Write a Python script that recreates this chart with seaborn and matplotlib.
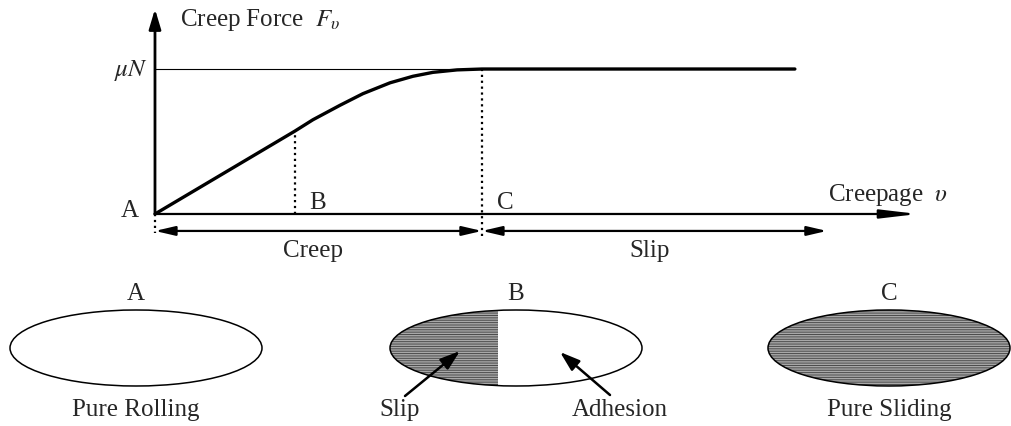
import matplotlib
matplotlib.use("Agg")
import matplotlib.pyplot as plt
from matplotlib.patches import Ellipse, Rectangle
import pandas as pd
import seaborn as sns

# creep curve: creepage in units of the saturation point C, force in units of muN
creepage = [0.0, 0.428, 0.483, 0.566, 0.636, 0.719, 0.789, 0.85, 0.924, 1.0, 1.957]
force = [0.0, 0.572, 0.65, 0.75, 0.83, 0.905, 0.95, 0.977, 0.994, 1.0, 1.0]

point_names = ["A", "B", "C"]
point_creepage = [0.0, 0.428, 1.0]
point_force = [0.0, 0.572, 1.0]
regime_labels = ["Creep", "Slip"]
state_labels = ["Pure Rolling", "", "Pure Sliding"]
slip_share = [0.0, 0.43, 1.0]   # hatched (slip) part of each contact patch

sns.set_theme(style="white")
plt.rcParams["font.family"] = ["Liberation Serif", "DejaVu Serif"]
plt.rcParams["mathtext.fontset"] = "stix"
plt.rcParams["hatch.linewidth"] = 0.7
fs = 18

fig = plt.figure(figsize=(10.11, 4.27), dpi=100)

# ---- upper part: creep force curve
ax = fig.add_axes([0, 1 - 265 / 427, 1, 265 / 427])
df = pd.DataFrame({"creepage": creepage, "force": force})
sns.lineplot(data=df, x="creepage", y="force", ax=ax, color="black", lw=2.4,
             sort=False, estimator=None)
ax.set_xlim(-0.474, 2.618)
ax.set_ylim(-0.345, 1.483)
ax.axis("off")

arr = dict(color="black", shrinkA=0, shrinkB=0)
# axes
ax.annotate("", xy=(0, 1.414), xytext=(0, 0),
            arrowprops=dict(arrowstyle="-|>,head_length=0.6,head_width=0.18",
                            lw=2.0, mutation_scale=20, **arr))
ax.annotate("", xy=(2.333, 0), xytext=(0, 0),
            arrowprops=dict(arrowstyle="-|>,head_length=1.1,head_width=0.13",
                            lw=1.6, mutation_scale=20, **arr))
# muN level
ax.plot([0, point_creepage[2]], [max(force)] * 2, color="black", lw=0.8)
# dotted markers
ax.plot([0, 0], [0, -0.13], color="black", lw=1.6, ls=":")
ax.plot([point_creepage[1]] * 2, [0, point_force[1]], color="black", lw=1.6, ls=":")
ax.plot([point_creepage[2]] * 2, [-0.15, point_force[2]], color="black", lw=1.6, ls=":")
# regime arrows
ax.annotate("", xy=(point_creepage[2], -0.117), xytext=(0, -0.117),
            arrowprops=dict(arrowstyle="<|-|>,head_length=0.6,head_width=0.14",
                            lw=1.6, mutation_scale=20, **arr))
ax.annotate("", xy=(2.055, -0.117), xytext=(point_creepage[2], -0.117),
            arrowprops=dict(arrowstyle="<|-|>,head_length=0.6,head_width=0.14",
                            lw=1.6, mutation_scale=20, **arr))

ax.text(0.076, 1.345, r"Creep Force  $F_{\upsilon}$", fontsize=fs, va="center", ha="left")
ax.text(-0.02, 1.0, r"$\mu N$", fontsize=fs, va="center", ha="right")
ax.text(2.058, 0.14, r"Creepage  $\upsilon$", fontsize=fs, va="center", ha="left")
ax.text(-0.05, 0.03, point_names[0], fontsize=fs, va="center", ha="right")
ax.text(point_creepage[1] + 0.07, 0.08, point_names[1], fontsize=fs, va="center", ha="center")
ax.text(point_creepage[2] + 0.07, 0.08, point_names[2], fontsize=fs, va="center", ha="center")
ax.text(0.483, -0.245, regime_labels[0], fontsize=fs, va="center", ha="center")
ax.text(1.514, -0.245, regime_labels[1], fontsize=fs, va="center", ha="center")

# ---- lower part: contact patches
ax2 = fig.add_axes([0, 0, 1, 162 / 427])
ax2.set_xlim(0, 1011)
ax2.set_ylim(427, 265)
ax2.axis("off")

centers = [136, 516, 889]
widths = [252, 252, 242]
cy, h = 349, 76
for i, (cx, w) in enumerate(zip(centers, widths)):
    if slip_share[i] > 0:
        shade = Ellipse((cx, cy), w, h, facecolor="#a8a8a8", edgecolor="#4a4a4a",
                        lw=0, hatch="-------")
        ax2.add_patch(shade)
        clip = Rectangle((cx - w / 2, cy - h), w * slip_share[i], 2 * h,
                         transform=ax2.transData)
        shade.set_clip_path(clip)
    ax2.add_patch(Ellipse((cx, cy), w, h, facecolor="none", edgecolor="black", lw=1.1))
    ax2.text(cx, 294, point_names[i], fontsize=fs, ha="center", va="center")
    if state_labels[i]:
        ax2.text(cx, 410, state_labels[i], fontsize=fs, ha="center", va="center")

ax2.annotate("", xy=(460, 352), xytext=(405, 397),
             arrowprops=dict(arrowstyle="-|>,head_length=0.6,head_width=0.2",
                             lw=1.8, mutation_scale=20, **arr))
ax2.annotate("", xy=(560, 353), xytext=(610, 396),
             arrowprops=dict(arrowstyle="-|>,head_length=0.6,head_width=0.2",
                             lw=1.8, mutation_scale=20, **arr))
ax2.text(400, 410, "Slip", fontsize=fs, ha="center", va="center")
ax2.text(620, 410, "Adhesion", fontsize=fs, ha="center", va="center")

fig.savefig("out.png", dpi=100)
